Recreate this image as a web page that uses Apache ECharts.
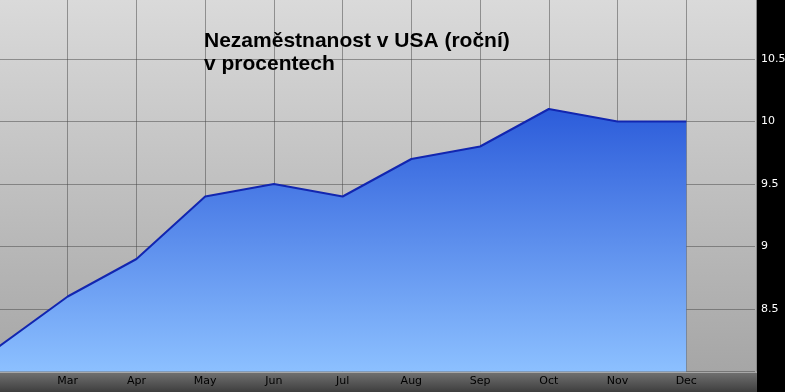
<!DOCTYPE html>
<html>
<head>
<meta charset="utf-8">
<script src="https://cdn.jsdelivr.net/npm/echarts@6/dist/echarts.min.js"></script>
<style>html,body{margin:0;padding:0;background:#000;}#c{width:785px;height:392px;}</style>
</head>
<body>
<div id="c"></div>
<script>
var months = ['Feb','Mar','Apr','May','Jun','Jul','Aug','Sep','Oct','Nov','Dec','Jan'];
var unemployment = [8.2, 8.6, 8.9, 9.4, 9.5, 9.4, 9.7, 9.8, 10.1, 10.0, 10.0, null];
var yMin = 8, yMax = 11, yStep = 0.5;
var titleText = 'Nezaměstnanost v USA (roční)\nv procentech';

var chart = echarts.init(document.getElementById('c'), null, {renderer: 'canvas'});
chart.setOption({
  backgroundColor: '#000',
  animation: false,
  title: {
    text: titleText,
    left: 204, top: 30, padding: 0,
    textStyle: {fontFamily: 'Liberation Sans, Arial, sans-serif', fontWeight: 'bold', fontSize: 21, lineHeight: 23, color: '#000'}
  },
  graphic: [
    {type: 'rect', z: -10, shape: {x: 0, y: 0, width: 757, height: 392},
     style: {fill: new echarts.graphic.LinearGradient(0, 0, 0, 1, [{offset: 0, color: '#dadada'}, {offset: 1, color: '#a3a3a3'}])}},
    {type: 'rect', z: -9, shape: {x: 756, y: 0, width: 1, height: 372}, style: {fill: '#8a8a8a'}},
    {type: 'rect', z: 2.5, shape: {x: 0, y: 372, width: 757, height: 20},
     style: {fill: new echarts.graphic.LinearGradient(0, 0, 0, 1, [{offset: 0, color: '#727272'}, {offset: 1, color: '#3e3e3e'}])}},
    {type: 'rect', z: 2.6, shape: {x: 0, y: 371.5, width: 757, height: 1.5}, style: {fill: '#a8a8a8'}}
  ],
  grid: {left: -1, right: 30, top: -3.5, bottom: 20.5, containLabel: false, outerBoundsMode: 'none'},
  xAxis: {
    type: 'category', data: months, boundaryGap: false, z: 3,
    axisLine: {show: false}, axisTick: {show: false},
    axisLabel: {
      color: '#000', fontFamily: 'DejaVu Sans, Verdana, sans-serif', fontSize: 11, margin: 4,
      interval: function (i) { return i > 0 && i < months.length - 1; }
    },
    splitLine: {show: true, lineStyle: {color: 'rgba(70,70,70,0.5)', width: 1}}
  },
  yAxis: {
    type: 'value', position: 'right', min: yMin, max: yMax, interval: yStep, z: 3,
    axisLine: {show: false}, axisTick: {show: false},
    axisLabel: {color: '#fff', fontFamily: 'DejaVu Sans, Verdana, sans-serif', fontSize: 11, margin: 6,
      showMinLabel: false, showMaxLabel: false},
    splitLine: {show: true, lineStyle: {color: 'rgba(70,70,70,0.5)', width: 1}}
  },
  series: [{
    type: 'line', data: unemployment, symbol: 'none', smooth: false,
    lineStyle: {color: '#1226b0', width: 2},
    areaStyle: {opacity: 1, color: new echarts.graphic.LinearGradient(0, 0, 0, 1, [
      {offset: 0, color: '#2c5cda'}, {offset: 1, color: '#8cc0ff'}])}
  }]
});
</script>
</body>
</html>
